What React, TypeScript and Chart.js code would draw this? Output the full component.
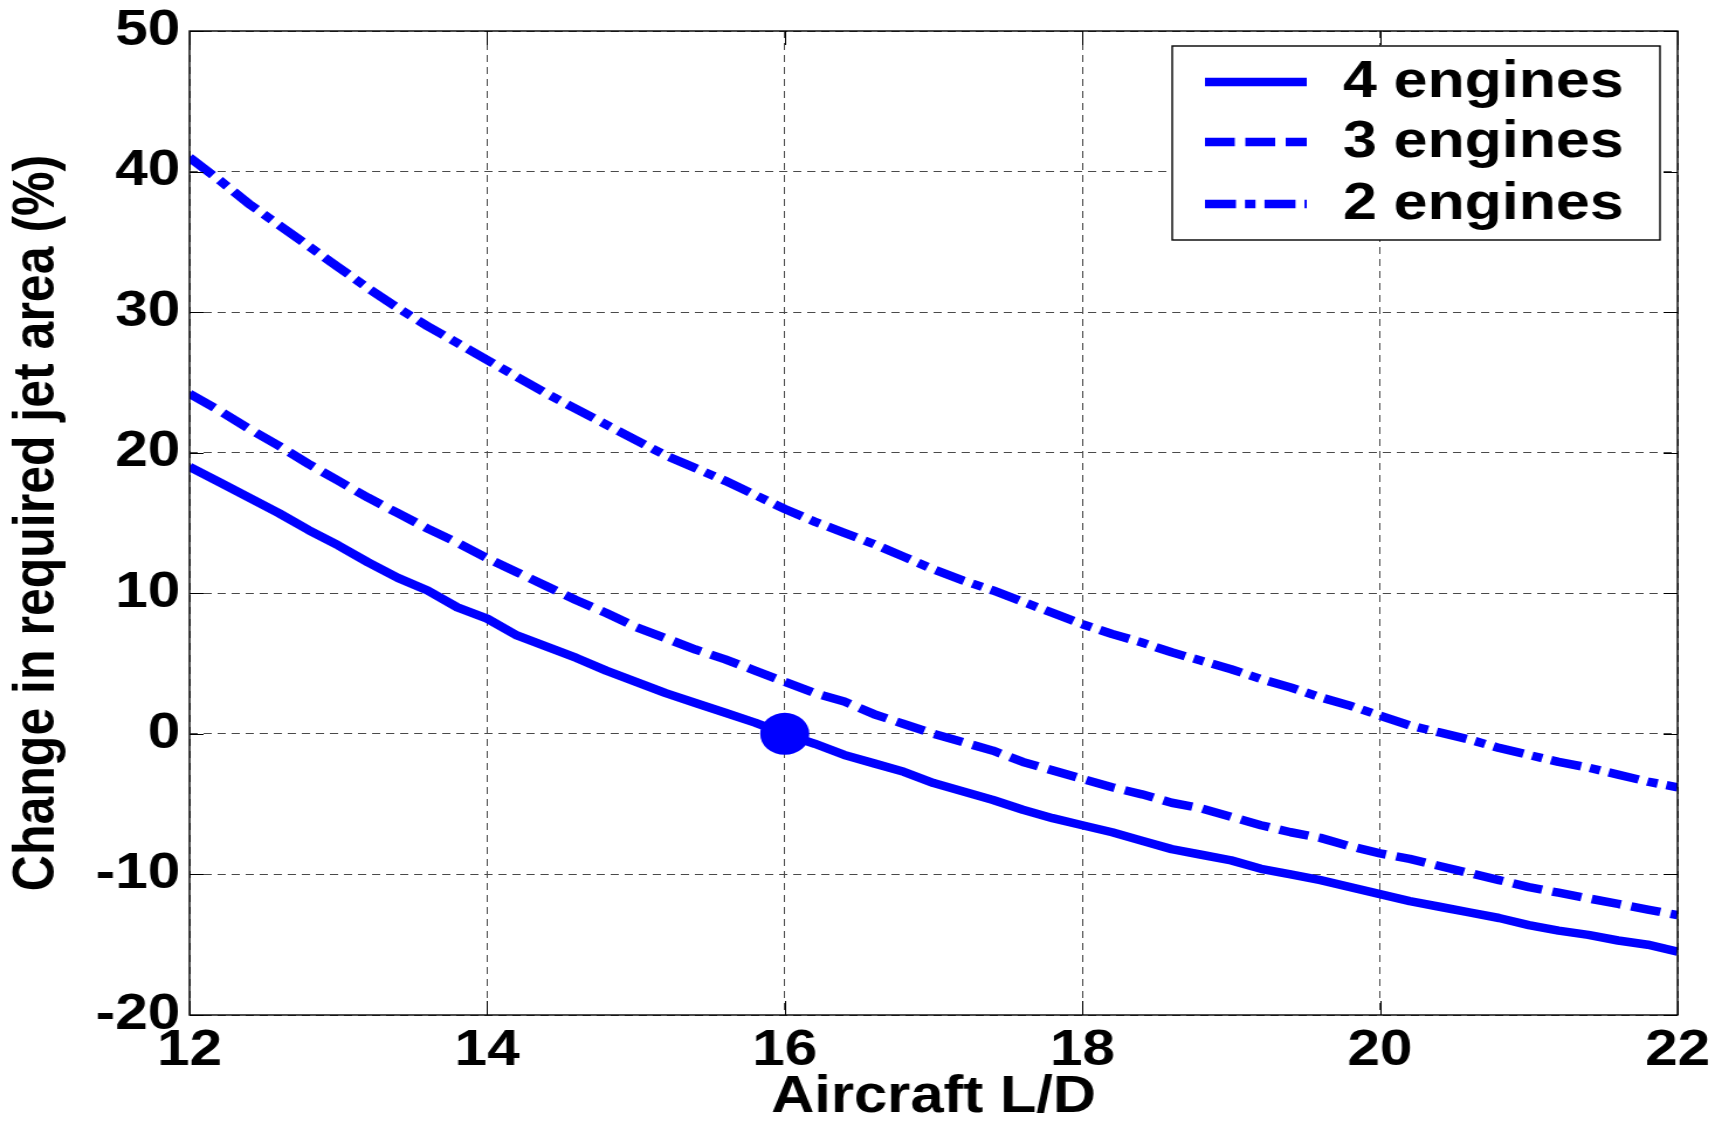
import React, { useEffect, useRef } from 'react';
import { Chart, registerables } from 'chart.js';

Chart.register(...registerables);

// ---- Data ----
const ldValues = [
  12.0, 12.2, 12.4, 12.6, 12.8, 13.0, 13.2, 13.4, 13.6, 13.8,
  14.0, 14.2, 14.4, 14.6, 14.8, 15.0, 15.2, 15.4, 15.6, 15.8,
  16.0, 16.2, 16.4, 16.6, 16.8, 17.0, 17.2, 17.4, 17.6, 17.8,
  18.0, 18.2, 18.4, 18.6, 18.8, 19.0, 19.2, 19.4, 19.6, 19.8,
  20.0, 20.2, 20.4, 20.6, 20.8, 21.0, 21.2, 21.4, 21.6, 21.8, 22.0,
];

const fourEngines = [
  19.0, 17.9, 16.8, 15.7, 14.5, 13.4, 12.2, 11.1, 10.2, 9.0,
  8.2, 7.0, 6.2, 5.4, 4.5, 3.7, 2.9, 2.2, 1.5, 0.8,
  0.0, -0.7, -1.5, -2.1, -2.7, -3.5, -4.1, -4.7, -5.4, -6.0,
  -6.5, -7.0, -7.6, -8.2, -8.6, -9.0, -9.6, -10.0, -10.4, -10.9,
  -11.4, -11.9, -12.3, -12.7, -13.1, -13.6, -14.0, -14.3, -14.7, -15.0, -15.5,
];

const threeEngines = [
  24.2, 23.0, 21.7, 20.5, 19.2, 18.0, 16.8, 15.7, 14.6, 13.6,
  12.5, 11.5, 10.5, 9.5, 8.6, 7.6, 6.8, 6.0, 5.3, 4.5,
  3.7, 2.9, 2.3, 1.4, 0.7, 0.0, -0.6, -1.2, -2.0, -2.6,
  -3.2, -3.8, -4.3, -4.9, -5.3, -5.9, -6.5, -7.0, -7.4, -8.0,
  -8.5, -8.9, -9.4, -9.9, -10.4, -10.9, -11.3, -11.7, -12.1, -12.5, -12.9,
];

const twoEngines = [
  41.0, 39.4, 37.7, 36.2, 34.7, 33.2, 31.7, 30.3, 29.0, 27.8,
  26.6, 25.4, 24.2, 23.1, 22.0, 20.9, 19.8, 18.9, 18.0, 17.0,
  16.0, 15.1, 14.3, 13.5, 12.6, 11.7, 10.9, 10.2, 9.4, 8.6,
  7.8, 7.1, 6.5, 5.8, 5.2, 4.6, 3.9, 3.3, 2.6, 2.0,
  1.3, 0.6, 0.1, -0.4, -1.0, -1.5, -2.0, -2.4, -2.9, -3.4, -3.8,
];

const seriesLabels = ['4 engines', '3 engines', '2 engines'];
const xTickValues = [12, 14, 16, 18, 20, 22];
const yTickValues = [-20, -10, 0, 10, 20, 30, 40, 50];
const markerX = [16];
const markerY = [0];

const xTitle = 'Aircraft L/D';
const yTitle = 'Change in required jet area (%)';

// ---- Styles ----
const BLUE = '#0000ff';
const FONT = "'Liberation Sans', Arial, Helvetica, sans-serif";
// The reference figure is horizontally stretched; draw on a narrower canvas
// and let CSS stretch it to the full page width.
const PAGE_W = 1715;
const PAGE_H = 1123;
const CANVAS_W = 1466;

const framePlugin = {
  id: 'matlabFrame',
  afterDraw(chart: any) {
    const { ctx, chartArea: a, scales } = chart;
    ctx.save();
    ctx.setLineDash([]);
    // tick marks (inward, all four sides)
    ctx.strokeStyle = '#000';
    ctx.lineWidth = 1;
    ctx.beginPath();
    scales.x.ticks.forEach((t: any) => {
      const px = Math.round(scales.x.getPixelForValue(t.value)) + 0.5;
      ctx.moveTo(px, a.bottom);
      ctx.lineTo(px, a.bottom - 14);
      ctx.moveTo(px, a.top);
      ctx.lineTo(px, a.top + 14);
    });
    scales.y.ticks.forEach((t: any) => {
      const py = Math.round(scales.y.getPixelForValue(t.value)) + 0.5;
      ctx.moveTo(a.left, py);
      ctx.lineTo(a.left + 12, py);
      ctx.moveTo(a.right, py);
      ctx.lineTo(a.right - 12, py);
    });
    ctx.stroke();
    // axes box
    ctx.lineWidth = 1.4;
    ctx.strokeRect(a.left, a.top, a.right - a.left, a.bottom - a.top);

    // legend
    const boxRight = a.right - 15;
    const boxTop = a.top + 15;
    const boxW = 417;
    const boxH = 194;
    const boxLeft = boxRight - boxW;
    ctx.fillStyle = '#fff';
    ctx.fillRect(boxLeft, boxTop, boxW, boxH);
    ctx.lineWidth = 1.4;
    ctx.strokeStyle = '#000';
    ctx.strokeRect(boxLeft, boxTop, boxW, boxH);
    const rows = [36, 96, 158];
    const items = chart.data.datasets.filter((d: any) => d.label);
    items.forEach((d: any, i: number) => {
      const y = boxTop + rows[i];
      ctx.save();
      ctx.strokeStyle = d.borderColor;
      ctx.lineWidth = d.borderWidth;
      ctx.lineCap = 'butt';
      ctx.setLineDash(d.borderDash || []);
      ctx.beginPath();
      ctx.moveTo(boxLeft + 28, y);
      ctx.lineTo(boxLeft + 115, y);
      ctx.stroke();
      ctx.restore();
      ctx.fillStyle = '#000';
      ctx.font = `bold 52px ${FONT}`;
      ctx.textBaseline = 'middle';
      ctx.textAlign = 'left';
      ctx.fillText(d.label, boxLeft + 146, y + 1);
    });
    ctx.restore();
  },
};

export default function App() {
  const ref = useRef<HTMLCanvasElement | null>(null);

  useEffect(() => {
    document.body.style.margin = '0';
    const canvas = ref.current!;
    const mk = (ys: number[]) => ldValues.map((x, i) => ({ x, y: ys[i] }));
    const lineBase = {
      borderColor: BLUE,
      backgroundColor: BLUE,
      borderWidth: 8.5,
      pointRadius: 0,
      tension: 0,
      fill: false,
      clip: 0,
      borderCapStyle: 'butt',
      borderJoinStyle: 'round',
    };
    const tickFont = { family: FONT, size: 50, weight: 'bold', lineHeight: 1 };
    const chart = new Chart(canvas, {
      type: 'line',
      data: {
        datasets: [
          { ...lineBase, label: seriesLabels[0], data: mk(fourEngines), borderDash: [] },
          { ...lineBase, label: seriesLabels[1], data: mk(threeEngines), borderDash: [25.5, 9] },
          { ...lineBase, label: seriesLabels[2], data: mk(twoEngines), borderDash: [26.5, 7.7, 9, 7.7] },
          {
            data: markerX.map((x, i) => ({ x, y: markerY[i] })),
            showLine: false,
            pointStyle: 'circle',
            pointRadius: 21,
            borderWidth: 0,
            borderColor: BLUE,
            backgroundColor: BLUE,
            clip: false,
          } as any,
        ],
      },
      options: {
        responsive: false,
        animation: false,
        devicePixelRatio: 1,
        events: [],
        layout: { padding: { left: 0, top: 31, right: 32, bottom: 0 } },
        plugins: {
          legend: { display: false },
          tooltip: { enabled: false },
        },
        scales: {
          x: {
            type: 'linear',
            min: 12,
            max: 22,
            afterBuildTicks: (s: any) => {
              s.ticks = xTickValues.map((v) => ({ value: v }));
            },
            afterFit: (s: any) => {
              s.height = 108;
              s.paddingLeft = 0;
              s.paddingRight = 0;
            },
            ticks: {
              color: '#000',
              padding: 11,
              maxRotation: 0,
              autoSkip: false,
              font: tickFont,
            },
            grid: { color: '#4a4a4a', lineWidth: 1, drawTicks: false },
            border: { display: false, dash: [7, 5] },
            title: {
              display: true,
              text: xTitle,
              color: '#000',
              padding: { top: 0, bottom: 0 },
              font: { family: FONT, size: 51, weight: 'bold', lineHeight: 1 },
            },
          },
          y: {
            type: 'linear',
            min: -20,
            max: 50,
            afterBuildTicks: (s: any) => {
              s.ticks = yTickValues.map((v) => ({ value: v }));
            },
            afterFit: (s: any) => {
              s.width = 162;
              s.paddingTop = 0;
              s.paddingBottom = 0;
            },
            ticks: {
              color: '#000',
              padding: 8,
              autoSkip: false,
              font: tickFont,
            },
            grid: { color: '#4a4a4a', lineWidth: 1, drawTicks: false },
            border: { display: false, dash: [7, 5] },
            title: {
              display: true,
              text: yTitle,
              color: '#000',
              padding: { top: 7, bottom: 0 },
              font: { family: FONT, size: 50, weight: 'bold', lineHeight: 1 },
            },
          },
        },
      } as any,
      plugins: [framePlugin],
    });
    return () => chart.destroy();
  }, []);

  return (
    <div style={{ position: 'absolute', left: 0, top: 0, width: PAGE_W, height: PAGE_H, background: '#fff' }}>
      <canvas
        ref={ref}
        width={CANVAS_W}
        height={PAGE_H}
        style={{ width: `${PAGE_W}px`, height: `${PAGE_H}px`, display: 'block' }}
      />
    </div>
  );
}
